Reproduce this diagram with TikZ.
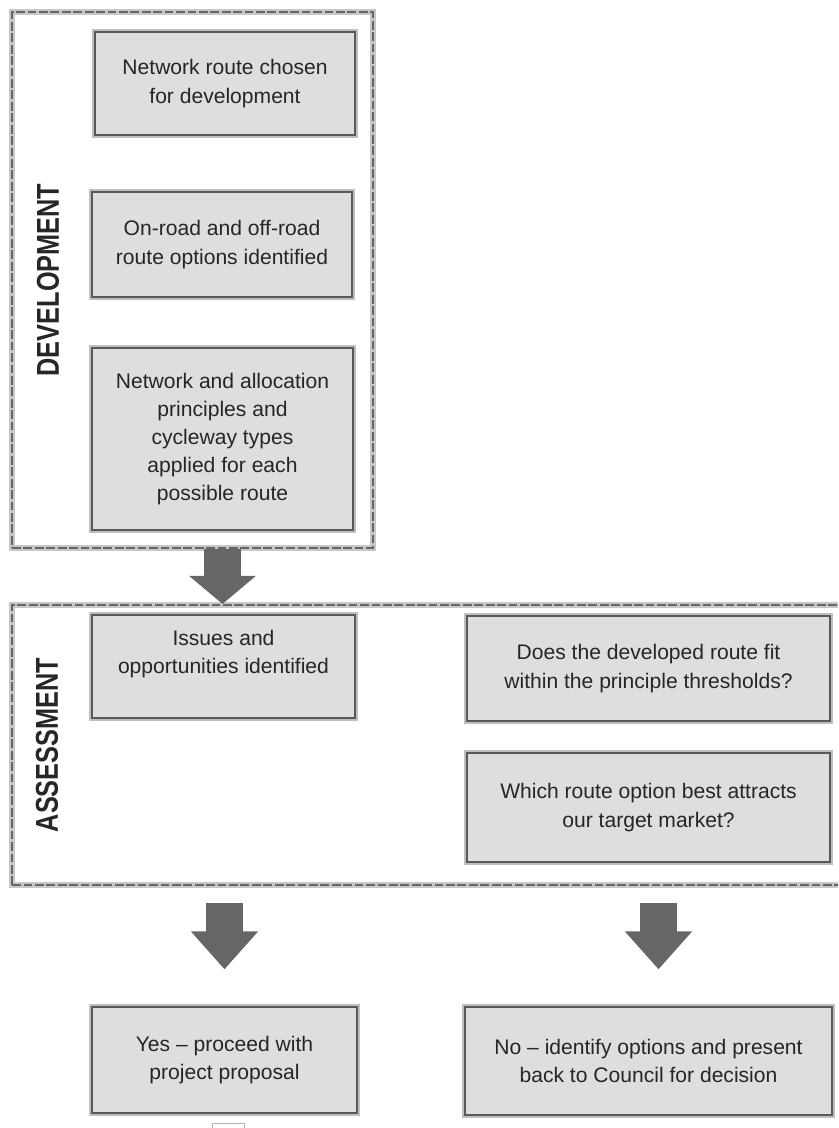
\documentclass[tikz,border=0pt]{standalone}
\usepackage{fontspec}
\usepackage{graphicx}
\setmainfont{Liberation Sans}
\usetikzlibrary{arrows.meta,calc}
\tikzset{
  box/.style={draw=black!65, line width=0.8pt, fill=black!13, text=black!85,
    align=center, font=\fontsize{12}{16}\selectfont,
    preaction={draw=black!25, line width=3.2pt}},
  frame/.style={draw=black!60, line width=1.2pt, dash pattern=on 5pt off 1.5pt,
    preaction={draw=black!22, line width=3.6pt, solid}},
  sidelabel/.style={rotate=90, text=black!85, font=\fontsize{18}{18}\selectfont\bfseries},
  fatarrow/.style={draw=black!60, line width=0.74cm, -{Triangle[length=#1, width=1.3cm]}},
  fatarrow/.default=0.7cm
}
\begin{document}
\begin{tikzpicture}[x=0.02cm, y=-0.02cm]
  \useasboundingbox (0,0) rectangle (838,1128);
  \clip (0,0) rectangle (838,1128);
  \node[frame, minimum width=7.22cm, minimum height=10.72cm] (devframe) at (192.5,280) {};
  \node[frame, minimum width=16.76cm, minimum height=5.6cm] (assessframe) at (431,745) {};
  \node[sidelabel] (devlabel) at (48,280) {\scalebox{0.8}[1]{DEVELOPMENT}};
  \node[sidelabel] (assesslabel) at (47,745) {\scalebox{0.8}[1]{ASSESSMENT}};
  \node[box, minimum width=5.2cm, minimum height=2.06cm] (chosen) at (225,83.5)
    {Network route chosen\\for development};
  \node[box, minimum width=5.2cm, minimum height=2.1cm] (options) at (222,244.5)
    {On-road and off-road\\route options identified};
  \node[box, minimum width=5.22cm, minimum height=3.64cm] (principles) at (222.5,439)
    {Network and allocation\\principles and\\cycleway types\\applied for each\\possible route};
  \node[box, minimum width=5.26cm, minimum height=2.06cm, text depth=17pt] (issues) at (223.5,666.5)
    {Issues and\\opportunities identified};
  \node[box, minimum width=7.26cm, minimum height=2.1cm] (fit) at (648.5,668.5)
    {Does the developed route fit\\within the principle thresholds?};
  \node[box, minimum width=7.26cm, minimum height=2.18cm] (market) at (648.5,807.5)
    {Which route option best attracts\\our target market?};
  \node[box, minimum width=5.3cm, minimum height=2.12cm] (yes) at (224.5,1060)
    {Yes -- proceed with\\project proposal};
  \node[box, minimum width=7.34cm, minimum height=2.16cm] (no) at (648.5,1061)
    {No -- identify options and present\\back to Council for decision};
  \node[draw=black!30, fill=white, minimum width=0.64cm, minimum height=0.6cm, anchor=north]
    (nextstep) at ([xshift=0.08cm, yshift=-0.18cm]yes.south) {};
  \draw[fatarrow=0.56cm] (principles.south |- devframe.south) -- (principles.south |- assessframe.north);
  \draw[fatarrow=0.76cm] ([yshift=-0.34cm]assessframe.south -| yes.north) -- ([yshift=0.74cm]yes.north);
  \draw[fatarrow=0.76cm] ([xshift=0.2cm, yshift=-0.34cm]assessframe.south -| no.north) -- ([xshift=0.2cm, yshift=0.74cm]no.north);
\end{tikzpicture}
\end{document}
